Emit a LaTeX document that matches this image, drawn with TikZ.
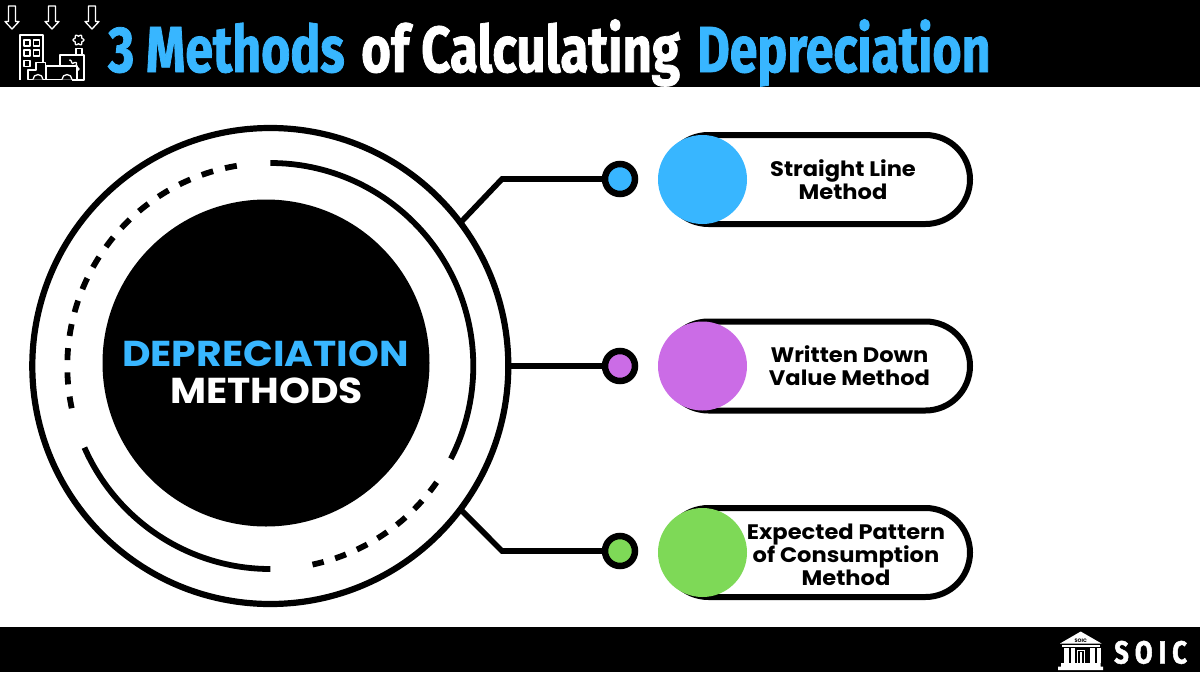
\documentclass[tikz,border=0pt]{standalone}
\usepackage{fontspec}
\usetikzlibrary{shapes.misc}
\setmainfont{Poppins}
\newfontfamily\titlefont[FakeStretch=0.77,FakeBold=1.2]{Fira Sans}
\newfontfamily\titlefontB[FakeStretch=0.785,FakeBold=1.2]{Fira Sans}
\newfontfamily\logofont[FakeStretch=0.8,LetterSpace=19,FakeBold=1.5]{Fira Sans}
\newfontfamily\hubfont[FakeStretch=1.09]{Poppins}
\newfontfamily\pillfont[FakeStretch=1.075]{Poppins}
\definecolor{cblue}{HTML}{38B6FF}
\definecolor{cpurple}{HTML}{CB6CE6}
\definecolor{cgreen}{HTML}{7ED957}
\tikzset{
  bar/.style={fill=black,draw=none},
  ring/.style={circle,draw=black,line width=6.2pt,minimum size=476pt,inner sep=0pt,outer sep=0pt},
  core/.style={circle,fill=black,minimum size=327pt,inner sep=0pt,outer sep=0pt},
  arcline/.style={draw=black,line width=5.8pt},
  dashA/.style={arcline,dash pattern=on 12pt off 12.3pt},
  dashB/.style={arcline,dash pattern=on 11.5pt off 12pt},
  conn/.style={draw=black,line width=5.6pt,line join=miter},
  dotnode/.style={circle,draw=black,line width=6.5pt,minimum size=30pt,inner sep=0pt,outer sep=0pt},
  pill/.style={rounded rectangle,draw=black,fill=white,line width=6pt,minimum height=89pt,minimum width=306pt,inner sep=0pt,outer sep=0pt},
  disc/.style={circle,minimum size=89pt,inner sep=0pt,outer sep=0pt},
  pilltext/.style={align=center,inner sep=0pt,font=\fontsize{21}{22.8}\selectfont\pillfont\bfseries},
  icon/.style={draw=white,line width=1.3pt,line join=round},
  logo/.style={fill=white,draw=none},
}
\begin{document}
\begin{tikzpicture}[x=1pt,y=-1pt]
\useasboundingbox (0,0) rectangle (1200,675);
\fill[white] (0,0) rectangle (1200,675);
\path[bar] (0,0) rectangle (1200,87);
\path[bar] (0,627) rectangle (1200,672);

% title
\node[anchor=base west,inner sep=0pt,text=cblue,font=\fontsize{65}{65}\selectfont\titlefont\bfseries] (titleA) at (108,72) {3 Methods};
\node[anchor=base west,inner sep=0pt,text=white,font=\fontsize{65}{65}\selectfont\titlefontB\bfseries] (titleB) at (361,72) {of Calculating};
\node[anchor=base west,inner sep=0pt,text=cblue,font=\fontsize{65}{65}\selectfont\titlefont\bfseries] (titleC) at (697,72) {Depreciation};

% header icon: arrows
\foreach \ax in {12,52,92}{
  \draw[icon] (\ax-3.5,6) -- (\ax+3.5,6) -- (\ax+3.5,21.5) -- (\ax+7,21.5) -- (\ax,29) -- (\ax-7,21.5) -- (\ax-3.5,21.5) -- cycle;
}
% building
\draw[icon] (20,80) -- (20,35) -- (43,35) -- (43,62);
\foreach \wx in {24,33.5}\foreach \wy in {40,50}{\draw[icon] (\wx,\wy) rectangle +(6,6);}
\draw[icon] (24,60.5) rectangle +(6,6);
% factory
\draw[icon] (60,65) -- (60,55) -- (84,55) -- (84,80) -- (72,80);
\draw[icon] (76,55) -- (76,48.5) -- (82,48.5) -- (82,55);
\draw[icon,domain=0:360,samples=60,smooth] plot ({78.5+(4.6+0.8*cos(6*\x))*cos(\x)},{40+(4.6+0.8*cos(6*\x))*sin(\x)});
\draw[icon,domain=-95:95,samples=70,smooth] plot ({70+(7.5+1.4*cos(8*\x))*cos(\x)},{69+(7.5+1.4*cos(8*\x))*sin(\x)});
% truck
\draw[icon,fill=black] (46,66) rectangle (77,79.5);
\draw[icon,fill=black] (36,62.5) -- (45.5,62.5) -- (45.5,79.5) -- (28,79.5) -- (28,70) -- (36,70) -- cycle;
\draw[icon,fill=black] (43,79.5) arc[start angle=0,end angle=180,radius=5pt];
\draw[icon,fill=black] (72,79.5) arc[start angle=0,end angle=180,radius=5pt];

% logo
\path[logo] (1058,670) -- (1103,670) -- (1103,666.5) -- (1100.5,666.5) -- (1100.5,663) -- (1061,663) -- (1061,666.5) -- (1058,666.5) -- cycle;
\path[logo] (1080.7,631.5) -- (1101.5,643.5) -- (1060,643.5) -- cycle;
\path[logo] (1062,644.5) rectangle (1099.5,647);
\foreach \cx/\cw in {1064/4.5,1071/3.5,1090/4.5,1097/3.5}{\path[logo] (\cx,647.5) rectangle +(\cw,15);}
\draw[white,line width=1pt] (1077.5,662.5) -- (1077.5,650) -- (1084.5,650) -- (1084.5,662.5);
\path[logo] (1079.7,652) rectangle (1082.3,662.5);
\node[inner sep=0pt,text=black,font=\fontsize{5}{5}\selectfont\bfseries] (logosmall) at (1080.7,640.4) {SOIC};
\node[anchor=base west,inner sep=0pt,text=white,font=\fontsize{32}{32}\selectfont\logofont\bfseries] (logotext) at (1114,663.5) {SOIC};

% main diagram
\coordinate (c) at (270.3,366);
\node[dotnode,fill=cblue]   (d1) at (620,179) {};
\node[dotnode,fill=cpurple] (d2) at (620,366) {};
\node[dotnode,fill=cgreen]  (d3) at (620,551) {};
\node[ring] (outer) at (c) {};
\coordinate (e1) at (502,179);
\coordinate (e3) at (502,551);
\draw[conn] (outer.37.6) -- (e1) -- (d1);
\draw[conn] (outer.0) -- (d2);
\draw[conn] (outer.-37.6) -- (e3) -- (d3);

\node[core] (hub) at (266,363) {};
\draw[arcline] (c) ++(90:203pt) arc[start angle=90,end angle=-27.2,radius=203pt];
\draw[dashA] (c) ++(99.5:203pt) arc[start angle=99.5,end angle=192,radius=203pt];
\draw[arcline] (c) ++(203.7:203pt) arc[start angle=203.7,end angle=270,radius=203pt];
\draw[dashB] (c) ++(282:203pt) arc[start angle=282,end angle=325.2,radius=203pt];

\node[anchor=base,inner sep=0pt,text=cblue,font=\fontsize{36}{36}\selectfont\hubfont\bfseries] (hubA) at (265.5,366.7) {DEPRECIATION};
\node[anchor=base,inner sep=0pt,text=white,font=\fontsize{36}{36}\selectfont\hubfont\bfseries] (hubB) at (266.5,403) {METHODS};

% pills
\node[pill] (p1) at (817,179.5) {};
\node[pill] (p2) at (817,366) {};
\node[pill] (p3) at (817,552.5) {};
\node[disc,fill=cblue]   (k1) at (702.5,179.5) {};
\node[disc,fill=cpurple] (k2) at (702.5,366) {};
\node[disc,fill=cgreen]  (k3) at (702.5,552.5) {};
\node[pilltext] (t1) at (843,180) {Straight Line\\Method};
\node[pilltext] (t2) at (849.5,365.5) {Written Down\\Value Method};
\node[pilltext] (t3) at (846,555) {Expected Pattern\\of Consumption\\Method};
\end{tikzpicture}
\end{document}
